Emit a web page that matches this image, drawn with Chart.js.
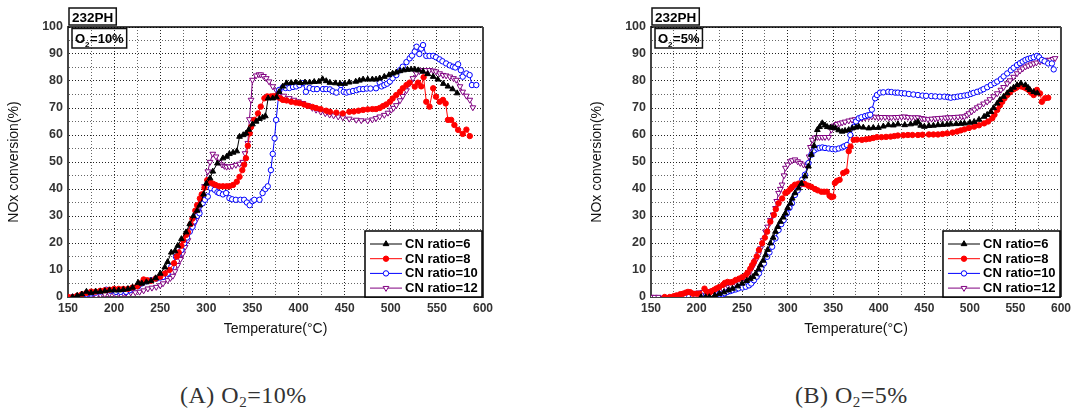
<!DOCTYPE html>
<html>
<head>
<meta charset="utf-8">
<script src="https://cdn.jsdelivr.net/npm/chart.js@4.4.1/dist/chart.umd.min.js"></script>
<style>
  html, body { margin: 0; padding: 0; background: #fff; }
  body { width: 1075px; height: 416px; position: relative; overflow: hidden; }
  canvas { position: absolute; top: 0; }
  #chartA { left: 0; }
  #chartB { left: 583px; }
  .caption {
    position: absolute; top: 382px;
    font-family: "Liberation Serif", "DejaVu Serif", serif;
    font-size: 24px; color: #333; white-space: nowrap; letter-spacing: 0.5px;
  }
  .caption sub { font-size: 15px; vertical-align: -4px; }
</style>
</head>
<body>
<canvas id="chartA" width="540" height="345"></canvas>
<canvas id="chartB" width="492" height="345"></canvas>
<div class="caption" style="left:180px">(A) O<sub>2</sub>=10%</div>
<div class="caption" style="left:795px">(B) O<sub>2</sub>=5%</div>

<script>
// axis labels
const xTickLabels = [150, 200, 250, 300, 350, 400, 450, 500, 550, 600];
const yTickLabels = [0, 10, 20, 30, 40, 50, 60, 70, 80, 90, 100];
const seriesLabels = ['CN ratio=6', 'CN ratio=8', 'CN ratio=10', 'CN ratio=12'];

// (A) O2 = 10%  -- [temperature, conversion]
const a6 = [[155,0],[160,0.5],[165,1],[170,2],[175,1.5],[180,2],[185,2],[190,2.2],[195,2.5],[200,2.5],[205,2.5],[210,2.7],[215,3],[220,3.5],[226,5.3],[230,5],[235,5.5],[240,6],[245,7],[250,8.7],[255,11],[258,13],[262,16.5],[266,17],[269,19],[273,21.5],[278,24],[282,27],[286,30],[290,32],[293,34],[297,38],[300,42],[304,44],[307,46.5],[312,49.5],[318,51.4],[322,52],[325,53],[329,53.5],[333,54],[336,59.4],[340,60],[343,60.6],[346,62],[350,64],[354,65],[357.6,66],[361,66.5],[364,67],[367,73.6],[372,73.6],[376,74],[379,76],[383,78],[387,79.2],[392,79.3],[397,79.5],[402,79.3],[407,79.5],[412,79.5],[417,79.7],[422,79.8],[426,80.7],[430,80],[434,79.4],[440,79.2],[445,79],[450,79],[455,79.5],[462,79.8],[466,80.2],[470,80.6],[475,80.6],[480,80.6],[484,80.6],[488,81],[493,81.6],[498,82.2],[502,82.8],[506,83.2],[510,83.7],[514,84],[518,84.2],[522,84.3],[526,84.3],[530,84],[535,83.5],[540,82.6],[546,81.6],[551,80.6],[557,79],[562,78],[567,77],[572,75.5]];
const a8 = [[150,0],[155,0],[160,0.5],[165,1],[170,1.5],[175,2],[180,2],[185,2.3],[190,2.5],[195,2.7],[200,3],[205,3],[210,3],[215,3],[220,3.5],[225,4],[228,5],[232,6.5],[236,6.2],[240,6],[245,6.8],[250,7.5],[255,8.7],[260,10],[265,12.5],[268,15],[270,16.5],[273,19],[275,21],[278,23],[280,24],[283,27],[285,29],[288,32],[290,34],[293,36.5],[295,38],[298,40.5],[301,43.3],[304,42.5],[307,42],[310,41.5],[314,41],[318,41],[322,41],[325,41],[329,41.5],[333,42.7],[336,44.5],[339,47],[341,49],[343,51.4],[345,56],[347,60.6],[348.5,63],[352,65.6],[356,68],[359,70.5],[363,73.6],[366,74.3],[370,74.3],[373,74.4],[376,74.3],[380,73.6],[383,73],[387,72.8],[392,72.3],[397,72],[401,71.8],[406,71.3],[410,70.8],[415,70.4],[419,70],[424,69.6],[430,69],[434,68.6],[441,68.3],[448,68],[455,68.6],[460,68.7],[465,69],[470,69.3],[475,69.5],[480,69.6],[484,69.6],[488,70],[491.5,70.7],[495,71.3],[499,72.3],[502,73.5],[506,74.8],[510,76],[513,77.3],[517,78.5],[520.5,79.4],[526,77.9],[529.5,79.4],[533,78],[535.6,81.4],[538.5,72.3],[542,70.5],[546,77.3],[549,74.2],[553,72.3],[556.6,73],[559.5,71.7],[562,65.6],[565.5,65.6],[569,63.7],[573,61.9],[578,60.4],[582,62],[585.7,59.6]];
const a10 = [[155,0],[160,0],[165,0.5],[170,1],[175,1.3],[180,1.6],[185,2],[191.5,2.7],[196,2.3],[202,1.9],[207,1.9],[213,1.9],[217,2.5],[220,3.3],[226,4],[230,5],[235,5.8],[240,6.2],[246,6.8],[250,7.2],[253,7.4],[258,8.7],[262,11.2],[267,14.9],[270,16],[273,17.4],[276,19.9],[279,22],[282,24.2],[285,26],[287,28],[290,30],[292.6,31],[296,34.7],[298.5,36],[301.6,37.2],[305,40.3],[309,39.7],[312,38.8],[314,38.5],[318,38],[321.5,38.5],[325,36.6],[328,36.2],[332,36],[337,36],[341,36],[344,35],[347,34],[350,35.5],[352,36],[357.6,36],[361,38.5],[364,40],[366.6,41],[370,47],[372,53],[374,58.8],[375.7,65.6],[379,76.7],[383,77.7],[386,77.4],[390,77.4],[394,77.8],[397.5,78],[401,78.5],[404.7,79.2],[408,76],[412,77.4],[416,77],[420,77],[426.5,77],[430,77],[434,76.9],[437,76.2],[441,75.7],[446,78.5],[449,76],[452,75.7],[455,76],[459,76.3],[463,76.6],[466,77],[470,77],[474,77.2],[478,77.2],[484,77.3],[488,79.4],[490,78],[493,78.5],[496,79],[499,79.8],[502,81],[506,82.2],[510,84],[513,85.3],[517,87],[520.5,88.4],[523,89.4],[526,90.9],[528,92.7],[531,90],[533,92],[535,93.3],[538.5,89.3],[542,89.3],[546,89.3],[549,88.8],[553,88],[556,87.3],[560,86.5],[564,85.8],[567.5,85.3],[570,85],[573,86.2],[576,84],[578,81.6],[582,82.8],[585.5,82.2],[588,78.5],[592.7,78.5]];
const a12 = [[150,0],[155,0],[160,0],[165,0],[170,0],[175,0.3],[180.7,0.4],[185,0.8],[190,1],[195,1.2],[200,1.3],[205,1.3],[210,1.4],[213,1.5],[218,1.6],[223,1.7],[227.6,1.9],[232,2.4],[236.6,3.1],[241,3.4],[245.7,3.7],[250,4.3],[253,5],[258,6.2],[261,7],[263.7,7.8],[266,9.5],[269,11.8],[272,14],[274.5,16.1],[277,18.5],[280,21],[283.6,24.8],[286,26.5],[289,28.5],[292,31.5],[294.4,34.7],[296,38],[298,41],[301.6,46.5],[304,50],[307,53],[310.5,52],[314,50],[317,49],[319.6,48.5],[322,48.2],[325,48.3],[328,48.5],[332,48.9],[336,49.3],[339.5,50],[342,53.2],[345,57],[346.7,65.8],[348.5,73],[350,80.4],[354,82],[357,82.4],[359,82.4],[362,81.8],[365,81],[368,79.8],[372,78],[376,76.5],[379,75.5],[384,74.5],[390,73.6],[395,73],[400,72.4],[404.7,71.8],[410,71],[415,70],[419,69.3],[424,68.6],[429,68],[433.7,67.5],[438,67.2],[443,66.8],[448,66.5],[455,66],[462.6,65.6],[468,65.4],[475,65.3],[480,65.7],[484,66.2],[488,66.8],[493,67.4],[497,68.2],[500.6,69.3],[503,70],[506,71],[510,72.8],[513,74.4],[517,76.5],[520.5,79.1],[524,81],[527.7,82.8],[531,83.6],[535,84],[538,84],[542,84],[546,83.8],[549,83.5],[553,82.8],[556.6,82.2],[560,82],[564,81.6],[568,81],[571,80.4],[575,78],[578,76],[582,74.5],[585.7,73],[589,70.2]];

// (B) O2 = 5%
const b6 = [[205,0],[210,0],[214,0],[220,0.6],[225,1.2],[230,1.8],[235,2.5],[239.5,3.1],[245,4],[250,5],[255,6],[259,6.8],[262,7.5],[265,8.7],[268,10.3],[270,11.8],[273,13.5],[275.7,15.5],[278,17.5],[281,19.9],[284,22],[286.6,24.2],[289,26],[292,27.9],[295,29.5],[297.5,31],[300,33],[303,34.7],[305,36.5],[308,38.5],[312,40.3],[315,42],[319,44.7],[322.8,48.4],[326,52.7],[329,56],[332.6,61.9],[335,63],[338,64.4],[341,63.6],[343.5,63],[347,62.8],[350,62.7],[352.5,62.5],[356,61.8],[359.8,61.3],[363,61.6],[367,61.9],[371,62.5],[375,62.8],[378,63.1],[383,62.8],[389,62.5],[394,62.7],[399.6,62.7],[405,63.2],[410.5,63.7],[416,63.6],[421,64],[428.6,63.7],[435,64],[440,64.3],[443,64.9],[446,63.5],[450,63.1],[455,63.4],[460,63.5],[465,63.7],[470,63.8],[475,63.9],[479,64],[485,64.1],[490,64.2],[494,64.3],[500,64.6],[504.7,64.9],[510,65.7],[515.6,66.8],[519,67.5],[523,68.6],[526,70],[530,71.7],[533,73],[537,74.2],[541,75.5],[544.6,76.7],[548,77.6],[551.8,78.5],[556,79.1],[561,78.5],[564,77.5],[566,76.7],[570,76],[574,75.5]];
const b8 = [[165,0],[170.6,0],[175,0.3],[178,0.6],[182,1],[185,1.2],[188,1.6],[190.6,1.9],[193,1.8],[196,1.2],[200,1.2],[203,1.2],[208.7,3.1],[211,2],[214,1.5],[217,2.2],[219.5,2.7],[222,3.2],[225,3.7],[229,4.5],[231,5.2],[234,5.6],[237,5.4],[239.5,5.6],[243,6.3],[246.7,6.8],[250,7.3],[254,8.1],[256,9],[259,10.5],[261,11.8],[263,13],[266,15],[268.5,17.4],[272,19.9],[275,22],[277.5,24.2],[281,27.9],[284.8,30.4],[287,32.5],[290,34.7],[294,36.5],[297.5,38.5],[300,39],[303,40],[305,40.8],[308,41.6],[312,42],[315.6,42],[319,41.8],[322.8,41.2],[326,40.8],[330,40],[333,39.5],[337,39],[340,39],[343,39],[346,37.5],[348,37],[350,37.2],[351.8,42.2],[354,43],[357,43.4],[361,45.9],[364.5,46.5],[367,54],[369,55.7],[372.5,58.2],[376,58.3],[381.5,58.2],[386,58.4],[390,58.6],[394,58.9],[398,59.2],[403,59.2],[408,59.3],[413,59.4],[417,59.6],[421,59.8],[427,59.9],[432,60],[437,60],[443,60],[448,60.1],[455,60.2],[460,60.2],[465,60.2],[470,60.4],[475,60.6],[481,60.9],[486,61.3],[490,61.7],[494,62.1],[499,62.6],[504.7,63.1],[510,63.6],[515.6,64.3],[520,65],[524.6,66.2],[527,67.5],[530,69.3],[533,71],[535.5,72.3],[538,73.6],[541,74.8],[544,75.8],[548,76.9],[551,77.5],[553.6,78.1],[556,78],[559,77.7],[562,77.2],[564.5,76.7],[567,75.7],[570,74.8],[573.6,76.7],[577,75.4],[579,72.3],[582.6,73.6],[586,73.8]];
const b10 = [[185,0],[188,0],[192,0.2],[196,0.4],[199.6,0.6],[205,0.6],[210.5,0.6],[214,0.8],[217.8,1],[222,1],[225,1],[228.6,1],[231,1.4],[234,1.9],[237,2.2],[239.5,2.5],[243,2.8],[246,3.2],[250.4,3.5],[254,3.8],[257.6,4.3],[260,5],[263,6.2],[266,7.5],[268.5,8.7],[271,10.5],[274,12.4],[277.5,14.9],[280,16.5],[283,18.6],[286.6,21.7],[290,24.8],[293,27],[295.6,28.5],[299,31],[302,33],[304.7,34.7],[308,37.8],[311,39.5],[313.8,41.6],[316,43.5],[319,45.3],[322.8,49.6],[326,52.7],[329,54.3],[332.6,55],[335,55.2],[338,55.4],[341,55.2],[345,55],[349,54.8],[352.5,54.7],[356,55],[359.8,55.4],[362,55.8],[365,56.3],[368.8,60],[372.5,63],[375,65],[378,66.2],[381,66.6],[385,67],[388,67.3],[390.6,67.5],[392.4,69.4],[396,73.6],[398,74.8],[401.4,75.7],[405,75.8],[410.5,76],[414,75.9],[418,75.7],[421,75.7],[425,75.5],[428.6,75.4],[433,75.2],[438,75],[443,74.8],[448,74.6],[452,74.5],[457.6,74.4],[462,74.3],[467,74.2],[472,74.2],[476,74],[479,73.8],[483,74],[486.6,74.2],[490,74.4],[494,74.6],[497.5,74.8],[501,75.2],[504,75.6],[508,76],[512,76.5],[515,77],[519,77.7],[523,78.5],[527,79.2],[530,79.8],[534,80.7],[537,81.7],[541,82.8],[545,84],[548,84.9],[551.8,85.9],[555,86.6],[558,87.2],[561,87.8],[564,88.2],[567,88.5],[570,88.8],[573.6,89.3],[576,88.8],[579,87.8],[582,87.3],[586,86.5],[590,86.5],[592,84.3]];
const b12 = [[150,0],[154,0],[158,0],[185,0.3],[188.8,0.6],[192,0.9],[196,1.2],[199.6,1.5],[203,1.6],[207,1.8],[210.5,1.9],[214,2.1],[217,2.3],[219.5,2.5],[223,2.7],[226,2.9],[228.6,3.1],[232,3.4],[235,3.7],[237.7,4],[241,4.3],[244,4.6],[246.7,5],[250,5.5],[254,6.8],[257,8],[259.4,9.9],[262,11.5],[265,13.6],[268,15.8],[270.3,18],[273,21],[275.7,24.2],[278,26],[281,28.5],[284,30.5],[286.6,32.9],[288,35.5],[290,38.5],[292,40],[293.8,41.6],[296,45],[297.5,47.8],[300,49],[303,50.2],[305,50.6],[308,50.9],[311,50.2],[313.8,49.6],[317.4,49],[321,48.6],[323.5,52],[325,55.5],[327,58.2],[330,59],[332.6,59.2],[335,59.2],[338,59.2],[341,59.2],[345,59.2],[348,61.9],[350.7,63.4],[354,64],[357,64.3],[359.8,64.6],[363,64.9],[367,65.3],[370.7,65.6],[374,65.8],[378,66],[381.5,66.2],[385,66.4],[389,66.6],[392.4,66.8],[396,66.7],[399.6,66.5],[403,66.6],[407,66.6],[411,66.5],[414,66.5],[418,66.6],[421,66.6],[425,66.7],[428.6,66.8],[432,66.6],[436,66.5],[440,66.5],[443,66.5],[447,66.2],[450,66],[454,65.8],[458,66],[462,66.1],[465,66.2],[469,66.3],[473,66.4],[476,66.5],[479,66.5],[483,66.6],[487,66.7],[491,66.8],[494,66.8],[497,67.4],[499,68],[502,68.7],[505,69.4],[508,70.2],[511,70.8],[515,71.6],[519,72.3],[522,73.2],[526,74.3],[530,75.4],[534,76.7],[537,77.7],[541,79.1],[544,80.2],[548,81.5],[551.8,82.8],[555,83.8],[558,84.6],[561,85.3],[564,85.7],[567,86.1],[570,86.5],[573,86.8],[577,87.2],[580,87.5],[582.6,87.8],[585,87.6],[588,87.8],[591,88.1],[593.5,88.4]];

const FONT = '"Liberation Sans", Arial, sans-serif';

// marker look per series (same order as seriesLabels)
const markers = [
  { color: '#000000', pointStyle: 'triangle', rotation: 0,   radius: 3.3, fill: '#000000' },
  { color: '#ff0000', pointStyle: 'circle',   rotation: 0,   radius: 2.7, fill: '#ff0000' },
  { color: '#0000ff', pointStyle: 'circle',   rotation: 0,   radius: 2.7, fill: '#ffffff' },
  { color: '#800080', pointStyle: 'triangle', rotation: 180, radius: 3.3, fill: '#ffffff' },
];

function toDataset(points, i) {
  const m = markers[i];
  return {
    label: seriesLabels[i],
    data: points.map(([x, y]) => ({ x, y })),
    borderColor: m.color,
    backgroundColor: m.fill,
    borderWidth: 1,
    pointStyle: m.pointStyle,
    rotation: m.rotation,
    pointRadius: m.radius,
    pointBorderWidth: 1,
    pointBorderColor: m.color,
    pointBackgroundColor: m.fill,
    tension: 0,
  };
}

function drawO2(ctx, x, y, value) {
  ctx.font = `bold 13px ${FONT}`;
  ctx.fillText('O', x, y);
  x += ctx.measureText('O').width;
  ctx.font = `bold 8px ${FONT}`;
  ctx.fillText('2', x, y + 4);
  x += ctx.measureText('2').width + 0.5;
  ctx.font = `bold 13px ${FONT}`;
  ctx.fillText('=' + value, x, y);
  return x + ctx.measureText('=' + value).width;
}

// frame top/right, the tag boxes and the legend box inside the plot
const decorPlugin = {
  id: 'decor',
  afterDraw(chart, args, opts) {
    const { ctx, chartArea: a } = chart;
    ctx.save();
    ctx.strokeStyle = '#000';
    ctx.lineWidth = 1.5;
    ctx.beginPath(); ctx.moveTo(a.left, a.top); ctx.lineTo(a.right, a.top); ctx.stroke();
    ctx.strokeStyle = '#444';
    ctx.lineWidth = 2;
    ctx.beginPath(); ctx.moveTo(a.right, a.top); ctx.lineTo(a.right, a.bottom); ctx.stroke();

    // "232PH" tag above the plot
    ctx.textBaseline = 'alphabetic';
    ctx.font = `bold 13.5px ${FONT}`;
    const tw = ctx.measureText(opts.tag).width;
    ctx.fillStyle = '#fff';
    ctx.fillRect(a.left + 1, a.top - 19, tw + 6, 17);
    ctx.strokeStyle = '#111';
    ctx.lineWidth = 1.5;
    ctx.strokeRect(a.left + 1, a.top - 19, tw + 6, 17);
    ctx.fillStyle = '#000';
    ctx.fillText(opts.tag, a.left + 4, a.top - 5);

    // O2 tag inside the plot
    ctx.fillStyle = '#000';
    const end = drawO2(ctx, a.left + 7, a.top + 16, opts.o2);
    ctx.strokeStyle = '#111';
    ctx.strokeRect(a.left + 4, a.top + 1.5, end - (a.left + 4) + 3, 19.5);

    // legend
    const lw = 117, lh = 66;
    const lx = a.right - lw - 1, ly = a.bottom - lh;
    ctx.fillStyle = '#fff';
    ctx.fillRect(lx, ly, lw, lh);
    ctx.strokeStyle = '#000';
    ctx.lineWidth = 1.5;
    ctx.strokeRect(lx, ly, lw, lh);
    chart.data.datasets.forEach((ds, i) => {
      const ry = ly + 13 + i * 14.7;
      ctx.strokeStyle = ds.borderColor;
      ctx.lineWidth = 1;
      ctx.beginPath(); ctx.moveTo(lx + 5, ry); ctx.lineTo(lx + 37, ry); ctx.stroke();
      ctx.fillStyle = ds.pointBackgroundColor;
      ctx.strokeStyle = ds.pointBorderColor;
      Chart.helpers.drawPoint(ctx, {
        pointStyle: ds.pointStyle, rotation: ds.rotation, radius: ds.pointRadius, borderWidth: 1,
      }, lx + 21, ry);
      ctx.fillStyle = '#000';
      ctx.font = `bold 13px ${FONT}`;
      ctx.textBaseline = 'middle';
      ctx.fillText(ds.label, lx + 40, ry + 0.5);
      ctx.textBaseline = 'alphabetic';
    });
    ctx.restore();
  },
};

function gridColor(c) {
  const v = c.tick ? c.tick.value : 0;
  const major = c.scale.axis === 'x' ? v % 50 === 0 : v % 10 === 0;
  return major ? '#222' : '#666';
}

function makeChart(id, series, tag, o2, rightPad) {
  return new Chart(document.getElementById(id), {
    type: 'line',
    data: { datasets: series.map(toDataset) },
    plugins: [decorPlugin],
    options: {
      responsive: false,
      animation: false,
      events: [],
      layout: { padding: { top: 27, right: rightPad, left: 0, bottom: 0 } },
      plugins: {
        legend: { display: false },
        tooltip: { enabled: false },
        decor: { tag, o2 },
      },
      scales: {
        x: {
          type: 'linear',
          min: 150,
          max: 600,
          afterFit(s) { s.height = 48; },
          grid: { color: gridColor, lineWidth: 1, drawTicks: false },
          border: { display: true, color: '#444', width: 2, dash: [1, 2] },
          ticks: {
            stepSize: 25,
            autoSkip: false,
            maxRotation: 0,
            padding: 4,
            color: '#333',
            font: { family: FONT, size: 12, weight: 'bold' },
            callback: (v) => (xTickLabels.includes(v) ? String(v) : ''),
          },
          title: {
            display: true,
            text: 'Temperature(°C)',
            color: '#111',
            padding: { top: 0, bottom: 7 },
            font: { family: FONT, size: 14 },
          },
        },
        y: {
          min: 0,
          max: 100,
          afterFit(s) { s.width = 68; },
          grid: { color: gridColor, lineWidth: 1, drawTicks: false },
          border: { display: true, color: '#444', width: 2, dash: [1, 2] },
          ticks: {
            stepSize: 5,
            autoSkip: false,
            padding: 5,
            color: '#333',
            font: { family: FONT, size: 12.5, weight: 'bold' },
            callback: (v) => (yTickLabels.includes(v) ? String(v) : ''),
          },
          title: {
            display: true,
            text: 'NOx conversion(%)',
            color: '#111',
            padding: { top: 6, bottom: 0 },
            font: { family: FONT, size: 14 },
          },
        },
      },
    },
  });
}

makeChart('chartA', [a6, a8, a10, a12], '232PH', '10%', 57);
makeChart('chartB', [b6, b8, b10, b12], '232PH', '5%', 10);
</script>
</body>
</html>
